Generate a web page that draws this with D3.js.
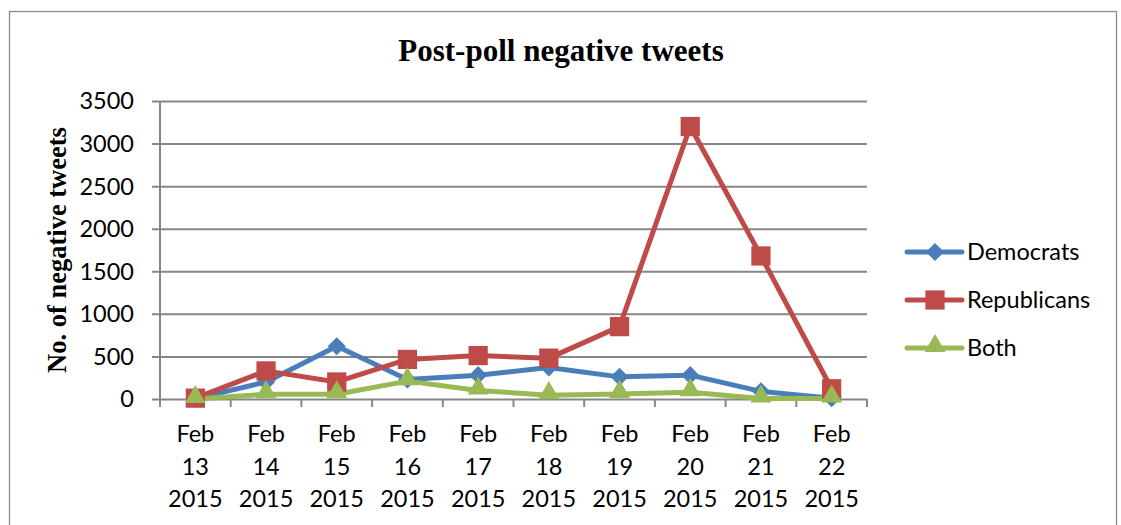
<!DOCTYPE html>
<html>
<head>
<meta charset="utf-8">
<script src="https://cdn.jsdelivr.net/npm/d3@7"></script>
<style>
  html, body { margin: 0; padding: 0; background: #fff; }
  svg { display: block; }
</style>
</head>
<body>
<script>
// Daily counts of negative tweets after the poll
const days = ["Feb 13 2015", "Feb 14 2015", "Feb 15 2015", "Feb 16 2015", "Feb 17 2015",
              "Feb 18 2015", "Feb 19 2015", "Feb 20 2015", "Feb 21 2015", "Feb 22 2015"];
const democrats   = [5, 200, 620, 230, 280, 370, 260, 280, 90, 10];
const republicans = [10, 330, 200, 465, 510, 480, 850, 3200, 1680, 120];
const both        = [0, 55, 55, 210, 100, 45, 60, 80, 5, 5];
const yTicks = [0, 500, 1000, 1500, 2000, 2500, 3000, 3500];

const seriesList = [
  { name: "Democrats",   values: democrats,   color: "#4a7ebb", shape: d3.symbolDiamond2 },
  { name: "Republicans", values: republicans, color: "#be4b48", shape: d3.symbolSquare },
  { name: "Both",        values: both,        color: "#98b954", shape: d3.symbolTriangle }
];

const W = 1121, H = 525;
const plot = { left: 160, right: 867, top: 101, bottom: 399 };
const gridColor = "#878787";
const labelFont = "Lato, 'Open Sans', 'Liberation Sans', sans-serif";
const labelSize = 23.5;

const svg = d3.select("body").append("svg").attr("width", W).attr("height", H);

// Chart frame
svg.append("rect")
  .attr("x", 9.5).attr("y", 11.5).attr("width", 1107).attr("height", 540)
  .attr("fill", "#fff").attr("stroke", "#8a8a8a").attr("stroke-width", 1.3);

const x = d3.scaleBand().domain(days).range([plot.left, plot.right]);
const y = d3.scaleLinear().domain([0, 3500]).range([plot.bottom, plot.top]);

// Horizontal gridlines with outward ticks
const yAxis = d3.axisLeft(y).tickValues(yTicks).tickSize(-(plot.right - plot.left)).tickPadding(0).tickFormat("");
const gy = svg.append("g").attr("transform", `translate(${plot.left},0)`).call(yAxis);
gy.select(".domain").remove();
gy.selectAll(".tick line").attr("stroke", gridColor).attr("stroke-width", 2).attr("x1", -8);

// Y tick labels
svg.append("g").selectAll("text").data(yTicks).join("text")
  .attr("x", 134).attr("y", d => y(d)).attr("dy", "0.36em")
  .attr("text-anchor", "end")
  .attr("font-family", labelFont).attr("font-size", labelSize).attr("fill", "#000")
  .text(d => d);

// Vertical axis line
svg.append("line")
  .attr("x1", plot.left).attr("x2", plot.left).attr("y1", plot.top).attr("y2", plot.bottom + 8)
  .attr("stroke", gridColor).attr("stroke-width", 2);

// Category boundary ticks along the base
const bounds = days.map(d => x(d)).concat([plot.right]);
svg.append("g").selectAll("line").data(bounds).join("line")
  .attr("x1", d => d).attr("x2", d => d)
  .attr("y1", plot.bottom).attr("y2", plot.bottom + 8)
  .attr("stroke", gridColor).attr("stroke-width", 2);

// Category labels on three lines
const xl = svg.append("g").selectAll("text").data(days).join("text")
  .attr("x", d => x(d) + x.bandwidth() / 2)
  .attr("text-anchor", "middle")
  .attr("font-family", labelFont).attr("font-size", labelSize).attr("fill", "#000");
xl.each(function(d) {
  const parts = d.split(" ");
  d3.select(this).selectAll("tspan").data(parts).join("tspan")
    .attr("x", x(d) + x.bandwidth() / 2)
    .attr("y", (p, i) => 442 + i * 32.5)
    .text(p => p);
});

// Series lines and markers
const line = d3.line().x((v, i) => x(days[i]) + x.bandwidth() / 2).y(v => y(v));
seriesList.forEach(s => {
  svg.append("path").datum(s.values)
    .attr("d", line).attr("fill", "none")
    .attr("stroke", s.color).attr("stroke-width", 5).attr("stroke-linejoin", "round");
});
const markerSize = s => s.shape === d3.symbolSquare ? 370 : (s.shape === d3.symbolTriangle ? 190 : 210);
const markerLift = s => s.shape === d3.symbolTriangle ? -2 : 0;
seriesList.forEach(s => {
  svg.append("g").selectAll("path").data(s.values).join("path")
    .attr("transform", (v, i) => `translate(${x(days[i]) + x.bandwidth() / 2},${y(v) + markerLift(s)})`)
    .attr("d", d3.symbol().type(s.shape).size(markerSize(s)))
    .attr("fill", s.color);
});

// Title
svg.append("text")
  .attr("x", 561).attr("y", 61).attr("text-anchor", "middle")
  .attr("font-family", "'Liberation Serif', 'Times New Roman', serif")
  .attr("font-weight", "bold").attr("font-size", 31).attr("fill", "#000")
  .text("Post-poll negative tweets");

// Y axis title
svg.append("text")
  .attr("transform", "translate(66,250) rotate(-90)")
  .attr("text-anchor", "middle")
  .attr("font-family", "'Liberation Serif', 'Times New Roman', serif")
  .attr("font-weight", "bold").attr("font-size", 26.5).attr("fill", "#000")
  .text("No. of negative tweets");

// Legend
const legend = svg.append("g").selectAll("g").data(seriesList).join("g")
  .attr("transform", (s, i) => `translate(907,${252 + i * 48})`);
legend.append("line").attr("x1", 0).attr("x2", 55).attr("y1", 0).attr("y2", 0)
  .attr("stroke", s => s.color).attr("stroke-width", 5).attr("stroke-linecap", "round");
legend.append("path")
  .attr("transform", s => `translate(28,${markerLift(s)})`)
  .attr("d", s => d3.symbol().type(s.shape).size(markerSize(s))())
  .attr("fill", s => s.color);
legend.append("text").attr("x", 60).attr("y", 0).attr("dy", "0.36em")
  .attr("font-family", labelFont).attr("font-size", labelSize).attr("fill", "#000")
  .text(s => s.name);
</script>
</body>
</html>
